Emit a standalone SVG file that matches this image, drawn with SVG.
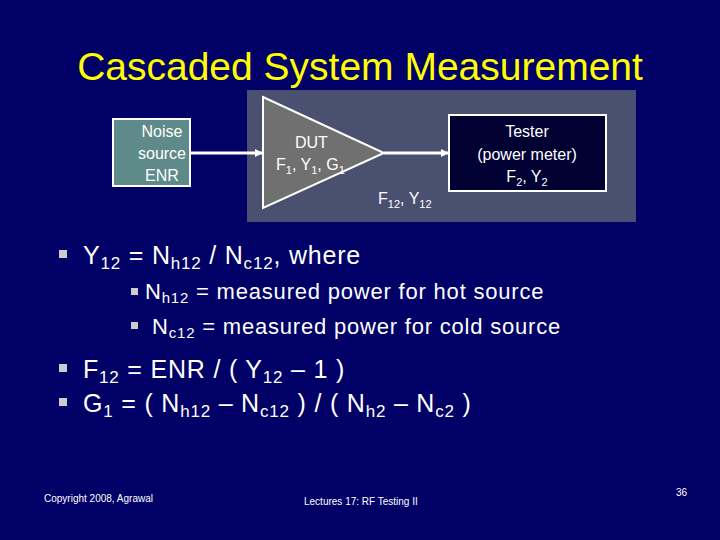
<svg xmlns="http://www.w3.org/2000/svg" width="720" height="540" viewBox="0 0 720 540">
<defs>
<style>
text{font-family:"Liberation Sans",Arial,sans-serif;fill:#fff}
.b{font-size:25px;letter-spacing:0.8px}.s{font-size:22px;letter-spacing:0.8px}.d{font-size:16px}
.sq{fill:#ccc}
</style>
<marker id="ah" markerWidth="8" markerHeight="8" refX="7" refY="4" orient="auto" markerUnits="userSpaceOnUse"><path d="M0,0 L8,4 L0,8 z" fill="#fff"/></marker>
</defs>
<rect width="720" height="540" fill="#000066"/>
<text x="360" y="80" text-anchor="middle" font-size="39" style="fill:#ffff00">Cascaded System Measurement</text>
<rect x="247" y="90" width="389" height="132" fill="#4a5070"/>
<g id="noise"><rect x="113" y="119" width="77" height="67" fill="#5f8a8a" stroke="#fff" stroke-width="2"/>
<text class="d" x="162" y="137" text-anchor="middle">Noise</text><text class="d" x="162" y="159" text-anchor="middle">source</text><text class="d" x="162" y="181" text-anchor="middle">ENR</text></g>
<g id="dut"><polygon points="263,97 384,153 263,208" fill="#707070" stroke="#fff" stroke-width="2"/>
<text class="d" x="295" y="148">DUT</text>
<text class="d" x="276" y="170">F<tspan font-size="11" dy="4">1</tspan><tspan dy="-4">, Y</tspan><tspan font-size="11" dy="4">1</tspan><tspan dy="-4">, G</tspan><tspan font-size="11" dy="4">1</tspan></text></g>
<g id="tester"><rect x="449" y="115" width="157" height="76" fill="#000033" stroke="#fff" stroke-width="2"/>
<text class="d" x="527" y="137" text-anchor="middle">Tester</text><text class="d" x="527" y="160" text-anchor="middle">(power meter)</text>
<text class="d" x="527" y="182" text-anchor="middle">F<tspan font-size="11" dy="4">2</tspan><tspan dy="-4">, Y</tspan><tspan font-size="11" dy="4">2</tspan></text></g>
<g id="connectors" stroke="#fff" stroke-width="3">
<line x1="190" y1="153" x2="262" y2="153" marker-end="url(#ah)"/>
<line x1="384" y1="153" x2="448" y2="153" marker-end="url(#ah)"/>
</g>
<text class="d" x="378" y="204">F<tspan font-size="11" dy="4">12</tspan><tspan dy="-4">, Y</tspan><tspan font-size="11" dy="4">12</tspan></text>
<rect class="sq" x="59" y="250" width="8" height="8"/>
<text class="b" x="83" y="264">Y<tspan font-size="17" dy="5">12</tspan><tspan dy="-5"> = N</tspan><tspan font-size="17" dy="5">h12</tspan><tspan dy="-5"> / N</tspan><tspan font-size="17" dy="5">c12</tspan><tspan dy="-5">, where</tspan></text>
<rect class="sq" x="131" y="288" width="7" height="7"/>
<text class="s" x="145" y="299">N<tspan font-size="15" dy="4">h12</tspan><tspan dy="-4"> = measured power for hot source</tspan></text>
<rect class="sq" x="131" y="322" width="7" height="7"/>
<text class="s" x="152" y="334">N<tspan font-size="15" dy="4">c12</tspan><tspan dy="-4"> = measured power for cold source</tspan></text>
<rect class="sq" x="59" y="364" width="8" height="8"/>
<text class="b" x="83" y="378">F<tspan font-size="17" dy="5">12</tspan><tspan dy="-5"> = ENR / ( Y</tspan><tspan font-size="17" dy="5">12</tspan><tspan dy="-5"> – 1 )</tspan></text>
<rect class="sq" x="59" y="398" width="8" height="8"/>
<text class="b" x="83" y="412">G<tspan font-size="17" dy="5">1</tspan><tspan dy="-5"> = ( N</tspan><tspan font-size="17" dy="5">h12</tspan><tspan dy="-5"> – N</tspan><tspan font-size="17" dy="5">c12</tspan><tspan dy="-5"> ) / ( N</tspan><tspan font-size="17" dy="5">h2</tspan><tspan dy="-5"> – N</tspan><tspan font-size="17" dy="5">c2</tspan><tspan dy="-5"> )</tspan></text>
<text x="44" y="502" font-size="10">Copyright 2008, Agrawal</text>
<text x="304" y="505" font-size="10">Lectures 17: RF Testing II</text>
<text x="676" y="496" font-size="10">36</text>
</svg>
